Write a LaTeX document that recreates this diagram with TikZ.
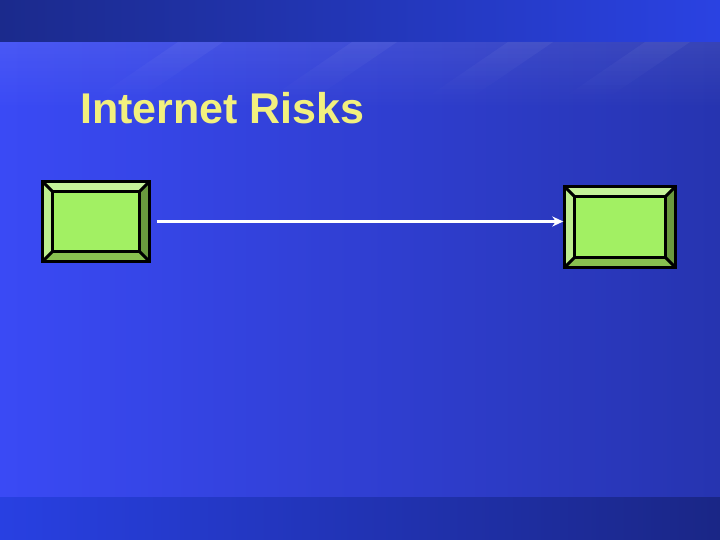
\documentclass[tikz,border=0pt]{standalone}
\usepackage{fontspec}
\setmainfont{Liberation Sans}
\usetikzlibrary{calc,arrows.meta,fadings}

\definecolor{bandleft}{HTML}{1B2A8C}
\definecolor{bandright}{HTML}{2A42E2}
\definecolor{mainleft}{HTML}{3A4AF5}
\definecolor{mainright}{HTML}{2634B0}
\definecolor{footleft}{HTML}{2840E2}
\definecolor{footright}{HTML}{1A2686}
\definecolor{titleyellow}{HTML}{F2F07E}
\definecolor{face}{HTML}{A2F063}
\definecolor{bevtop}{HTML}{C6F29A}
\definecolor{bevleft}{HTML}{BDEE8E}
\definecolor{bevright}{HTML}{6A9A3E}
\definecolor{bevbottom}{HTML}{88C050}

\tikzset{
	slab/.style={rectangle, draw=none, inner sep=0pt},
	edge/.style={black, line width=3pt, line join=miter},
	link/.style={white, line width=3pt, -{Stealth[length=11pt,width=10pt]}}
}

% bevelled button round a node
\newcommand{\bevel}[2]{%
	\coordinate (#1-a) at ($(#1.north west)+(#2,#2)$);
	\coordinate (#1-b) at ($(#1.north east)+(-#2,#2)$);
	\coordinate (#1-c) at ($(#1.south east)+(-#2,-#2)$);
	\coordinate (#1-d) at ($(#1.south west)+(#2,-#2)$);
	\fill[bevtop] (#1.north west) -- (#1.north east) -- (#1-b) -- (#1-a) -- cycle;
	\fill[bevleft] (#1.north west) -- (#1-a) -- (#1-d) -- (#1.south west) -- cycle;
	\fill[bevright] (#1.north east) -- (#1.south east) -- (#1-c) -- (#1-b) -- cycle;
	\fill[bevbottom] (#1.south west) -- (#1-d) -- (#1-c) -- (#1.south east) -- cycle;
	\fill[face] (#1-a) rectangle (#1-c);
	\draw[edge] (#1.north west) rectangle (#1.south east);
	\draw[edge] (#1-a) rectangle (#1-c);
	\draw[edge] (#1.north west) -- (#1-a) (#1.north east) -- (#1-b)
		(#1.south east) -- (#1-c) (#1.south west) -- (#1-d);
}

\begin{document}
\begin{tikzpicture}[x=1pt, y=-1pt]
	\useasboundingbox (0,0) rectangle (720,540);
	% background
	\shade[left color=mainleft, right color=mainright] (0,42) rectangle (720,497);
	\fill[white, opacity=0.08, path fading=south] (0,42) rectangle (720,110);
	\shade[left color=bandleft, right color=bandright] (0,0) rectangle (720,42);
	\shade[left color=footleft, right color=footright] (0,497) rectangle (720,540);
	\foreach \sx in {178, 352, 508, 645} {
		\fill[white, opacity=0.05, path fading=south]
			(\sx,42) -- (\sx+45,42) -- (\sx-40,100) -- (\sx-85,100) -- cycle;
	}

	% title
	\node[anchor=base west, inner sep=0pt, text=titleyellow, font=\bfseries\fontsize{43}{43}\selectfont]
		(title) at (80,124) {Internet Risks};

	% the two buttons
	\node[slab, minimum width=107pt, minimum height=80pt] (src) at (96,221.5) {};
	\node[slab, minimum width=111pt, minimum height=81pt] (dst) at (620,227) {};
	\bevel{src}{10}
	\bevel{dst}{10}

	\draw[link, shorten <=7pt, shorten >=1pt] (src.east) -- (src.east -| dst.west);
\end{tikzpicture}
\end{document}
